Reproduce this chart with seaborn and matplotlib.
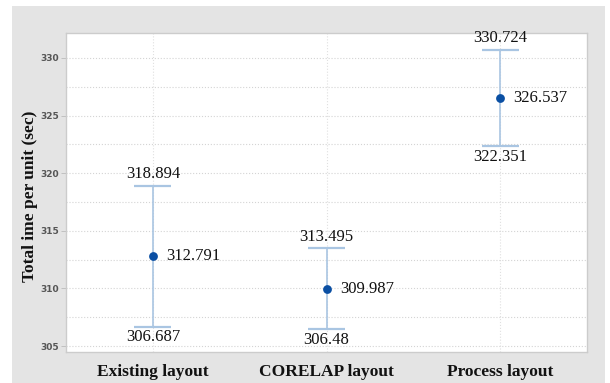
import matplotlib
matplotlib.use("Agg")
import matplotlib.pyplot as plt
from matplotlib.patches import Rectangle
from matplotlib.ticker import MultipleLocator
import seaborn as sns
import pandas as pd

# Mean total time per unit with lower / upper interval bounds
layouts = ["Existing layout", "CORELAP layout", "Process layout"]
means = [312.791, 309.987, 326.537]
lower = [306.687, 306.48, 322.351]
upper = [318.894, 313.495, 330.724]
yticks = [305, 310, 315, 320, 325, 330]

df = pd.DataFrame({"layout": layouts, "mean": means, "lower": lower, "upper": upper})

sns.set_theme(style="white")
plt.rcParams["font.family"] = ["Liberation Serif", "DejaVu Serif"]

fig = plt.figure(figsize=(6.10, 3.83), dpi=100)
fig.patch.set_facecolor("white")
fig.patches.append(Rectangle((12 / 610, 0), (605 - 12) / 610, (383 - 6) / 383,
                             transform=fig.transFigure, facecolor="#e4e4e4",
                             edgecolor="none", zorder=-5))

ax = fig.add_axes([66 / 610, 1 - 352 / 383, (587 - 66) / 610, (352 - 33) / 383])
ax.set_facecolor("white")

line_col = "#a9c5e2"
dot_col = "#0a4fa3"
cap = 0.107

xpos = range(len(layouts))
ax.vlines(list(xpos), df["lower"], df["upper"], color=line_col, lw=1.2, zorder=2)
ax.hlines(df["upper"], [x - cap for x in xpos], [x + cap for x in xpos],
          color=line_col, lw=1.6, zorder=2)
ax.hlines(df["lower"], [x - cap for x in xpos], [x + cap for x in xpos],
          color=line_col, lw=1.6, zorder=2)

sns.scatterplot(x=list(xpos), y=df["mean"], ax=ax, color=dot_col, s=40,
                edgecolor=dot_col, linewidth=0, zorder=3, legend=False)

for i, row in df.iterrows():
    ax.annotate(f"{row['upper']:g}", (i, row["upper"]), xytext=(0, 5.5),
                textcoords="offset points", ha="center", va="baseline",
                fontsize=12, color="#111111")
    ax.annotate(f"{row['lower']:g}", (i, row["lower"]), xytext=(0, -2),
                textcoords="offset points", ha="center", va="top",
                fontsize=12, color="#111111")
    ax.annotate(f"{row['mean']:g}", (i, row["mean"]), xytext=(9.5, 0),
                textcoords="offset points", ha="left", va="center",
                fontsize=12, color="#111111")

ax.set_xlim(-0.5, 2.5)
ax.set_ylim(304.48, 332.17)
ax.set_xticks(list(xpos))
ax.set_xticklabels(layouts, fontsize=12.5, fontweight="bold", color="#111111")
ax.set_yticks(yticks)
ax.set_yticklabels([str(t) for t in yticks], fontsize=6.5, fontweight="bold",
                   color="#555555", family="DejaVu Sans")
ax.yaxis.set_minor_locator(MultipleLocator(2.5))

ax.tick_params(axis="y", which="major", length=3.5, width=0.6, color="#bbbbbb",
               pad=1.5, left=True)
ax.tick_params(axis="y", which="minor", length=0)
ax.tick_params(axis="x", length=0, pad=9)

ax.grid(True, which="both", axis="y", linestyle=":", color="#d4d4d4", lw=0.8)
ax.grid(True, which="major", axis="x", linestyle=":", color="#e0e0e0", lw=0.8)
ax.set_axisbelow(True)

for sp in ax.spines.values():
    sp.set_color("#cccccc")
    sp.set_linewidth(1.0)

ax.set_xlabel("")
ax.set_ylabel("Total ime per unit (sec)", fontsize=12.5, fontweight="bold",
              color="#111111")
ax.yaxis.set_label_coords(-0.054, 0.489)

fig.savefig("out.png", dpi=100, facecolor=fig.get_facecolor())
